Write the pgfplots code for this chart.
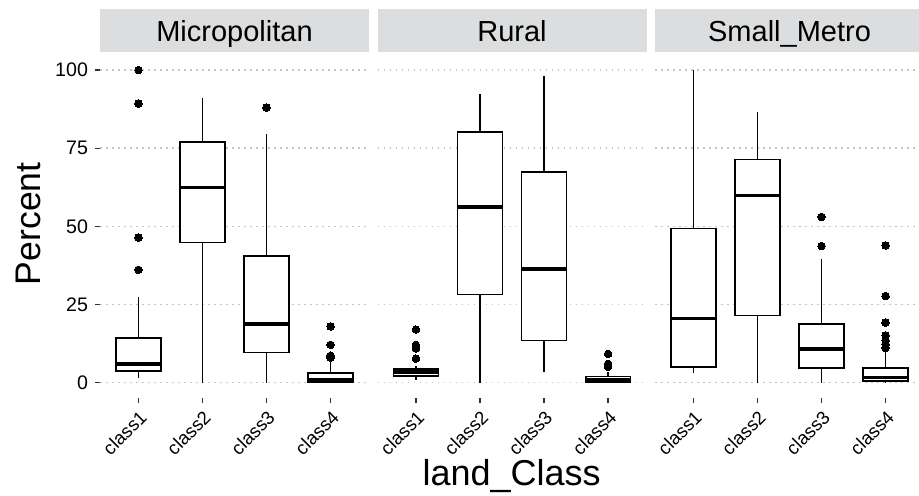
\documentclass[border=0pt]{standalone}
\usepackage{fontspec}
\setmainfont{Liberation Sans}
\usepackage{pgfplots}
\pgfplotsset{compat=1.18}
\usepgfplotslibrary{statistics}

\definecolor{stripgray}{HTML}{DCDDDE}
\definecolor{gridgray}{HTML}{C4C4C4}

\pgfplotsset{
  panel/.style={
    scale only axis, width=134.5pt, height=171.95pt,
    xmin=0.4, xmax=4.6, ymin=-5, ymax=105,
    axis line style={draw=none},
    xtick={1,2,3,4}, xticklabels={class1,class2,class3,class4},
    ytick={0,25,50,75,100},
    tick align=outside, tick pos=left, major tick length=2.5pt,
    tick style={black!80, line width=0.6pt},
    ymajorgrids,
    major grid style={gridgray, line width=0.7pt, dash pattern=on 0.9pt off 2.1pt},
    xticklabel style={rotate=45, anchor=north east, inner sep=2pt,
      font=\fontsize{9.3}{10}\selectfont},
    yticklabel style={font=\fontsize{9.8}{10}\selectfont},
    /pgf/number format/assume math mode=true,
    clip=false,
    boxplot/draw direction=y,
    boxplot/box extend=0.7,
    boxplot/whisker extend=0,
  },
  bx/.style={black, line width=0.85pt, mark=*, mark size=1.9pt,
    mark options={fill=black, line width=0pt},
    boxplot/every box/.style={fill=white, line width=0.85pt},
    boxplot/every whisker/.style={line width=0.85pt},
    boxplot/every median/.style={line width=1.7pt}},
}

% draw position, lower whisker, lower quartile, median, upper quartile, upper whisker, outliers
\newcommand{\bx}[7]{\addplot[bx, boxplot prepared={draw position=#1,
  lower whisker=#2, lower quartile=#3, median=#4,
  upper quartile=#5, upper whisker=#6}] coordinates {#7};}

\begin{document}
\begin{tikzpicture}
\useasboundingbox (0,0) rectangle (459.5pt,247.5pt);

% Micropolitan
\begin{axis}[panel, at={(50pt,48.35pt)}, anchor=south west]
\bx{1}{1.4}{3.8}{6.0}{14.3}{27.3}{(1,100) (1,89.3) (1,46.4) (1,36.1)}
\bx{2}{0}{44.8}{62.4}{77.0}{91.1}{}
\bx{3}{0}{9.7}{18.8}{40.5}{79.7}{(3,88.0)}
\bx{4}{0}{0.3}{0.9}{3.2}{7.0}{(4,18.0) (4,12.1) (4,8.6) (4,8.0)}
\end{axis}

% Rural
\begin{axis}[panel, at={(188.75pt,48.35pt)}, anchor=south west,
  yticklabels={}, ytick style={draw=none}]
\bx{1}{0.9}{2.2}{3.4}{4.4}{5.4}{(1,17.0) (1,12.1) (1,11.0) (1,7.7)}
\bx{2}{0}{28.2}{56.2}{80.1}{92.2}{}
\bx{3}{3.3}{13.5}{36.4}{67.3}{98.1}{}
\bx{4}{0}{0.3}{1.0}{2.0}{3.3}{(4,9.2) (4,6.0) (4,5.1)}
\end{axis}

% Small_Metro
\begin{axis}[panel, at={(327.5pt,48.35pt)}, anchor=south west,
  yticklabels={}, ytick style={draw=none}]
\bx{1}{3.2}{5.1}{20.6}{49.3}{100}{}
\bx{2}{0}{21.5}{59.9}{71.4}{86.6}{}
\bx{3}{0}{4.6}{10.8}{18.8}{39.6}{(3,53.0) (3,43.7)}
\bx{4}{0}{0.6}{1.7}{4.6}{10.5}{(4,43.9) (4,27.7) (4,19.2) (4,15.1) (4,13.5) (4,12.3) (4,11.1)}
\end{axis}

% facet strips
\foreach \lab [count=\i from 0] in {Micropolitan,Rural,Small\_Metro}{
  \fill[stripgray] (50pt+\i*138.75pt,221.35pt) rectangle ++(134.5pt,21.65pt);
  \node[anchor=base, font=\fontsize{14.5}{16}\selectfont] at (117.25pt+\i*138.75pt,226.6pt) {\lab};
}

% axis titles
\node[rotate=90, font=\fontsize{17.8}{20}\selectfont] at (14.2pt,135.65pt) {Percent};
\node[anchor=base, font=\fontsize{18}{20}\selectfont] at (255.85pt,5pt) {land\_Class};
\end{tikzpicture}
\end{document}
